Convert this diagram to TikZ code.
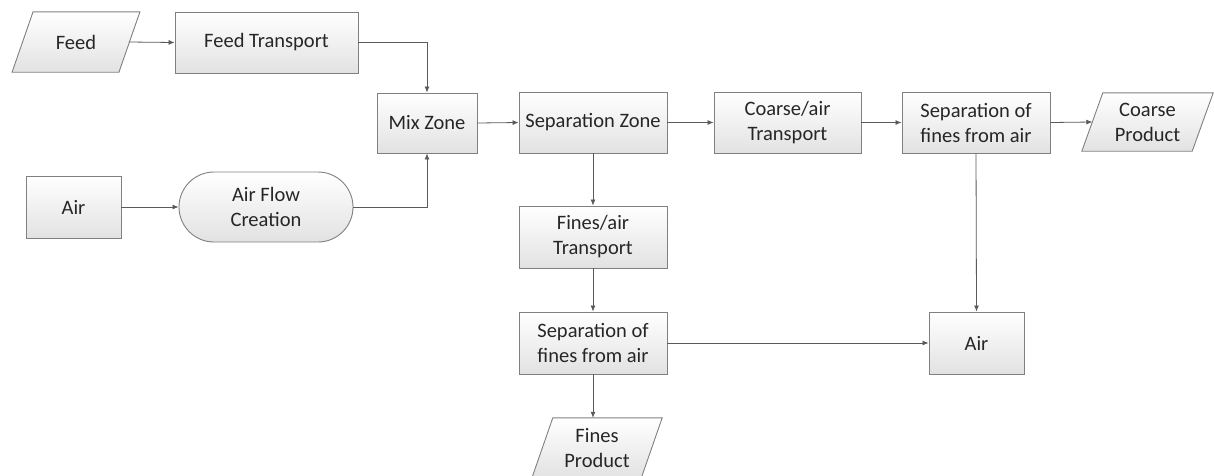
\documentclass[tikz,border=0pt]{standalone}
\usepackage{fontspec}
\setmainfont{Carlito}
\usetikzlibrary{arrows.meta,calc,backgrounds}
\definecolor{edgegray}{HTML}{808080}
\definecolor{linegray}{HTML}{5A5A5A}
\definecolor{shadegray}{HTML}{E2E2E2}
\definecolor{txt}{HTML}{262626}
\tikzset{
  shadebox/.style={draw=edgegray, line width=0.9pt, top color=white, bottom color=shadegray},
  box/.style={shadebox, rectangle, align=center, inner sep=0pt, text=txt,
    font=\fontsize{20.5}{25}\selectfont},
  iobox/.style={rectangle, draw=none, align=center, inner sep=0pt, text=txt,
    font=\fontsize{20.5}{25}\selectfont},
  conn/.style={draw=linegray, line width=0.8pt, -{Latex[length=6pt,width=5pt]}},
}
\begin{document}
\begin{tikzpicture}[x=1pt,y=-1pt]
\useasboundingbox (0,0) rectangle (1214,475);
\clip (0,0) rectangle (1214,475);
% process boxes
\node[iobox, minimum width=106.5, minimum height=60] (feed) at (76,42) {Feed};
\node[box, minimum width=183, minimum height=61] (ft) at (266.5,42.5) {Feed Transport};
\node[box, minimum width=100, minimum height=60] (mix) at (427,123) {Mix Zone};
\node[box, minimum width=95, minimum height=62] (air) at (73.5,207) {Air};
\node[box, minimum width=174, minimum height=70, rounded corners=35pt] (afc) at (266,207) {Air Flow\\Creation};
\node[box, minimum width=148, minimum height=61] (sz) at (593,122.5) {Separation Zone};
\node[box, minimum width=147, minimum height=61] (cat) at (787.5,122.5) {Coarse/air\\Transport};
\node[box, minimum width=148, minimum height=61] (sfa1) at (976,122.5) {Separation of\\fines from air};
\node[iobox, minimum width=110, minimum height=58] (cp) at (1147.5,122) {Coarse\\Product};
\node[box, minimum width=148, minimum height=62] (fat) at (593,237) {Fines/air\\Transport};
\node[box, minimum width=148, minimum height=62] (sfa2) at (593,343) {Separation of\\fines from air};
\node[box, minimum width=95, minimum height=62] (air2) at (976.5,343) {Air};
\node[iobox, minimum width=109, minimum height=60] (fp) at (597,448) {Fines\\Product};
% parallelograms behind the io texts
\begin{pgfonlayer}{background}
\foreach \n in {feed,cp,fp}{
  \draw[shadebox] ($(\n.south west)+(-10.5,0)$) -- ($(\n.south east)+(-10.5,0)$)
    -- ($(\n.north east)+(10.5,0)$) -- ($(\n.north west)+(10.5,0)$) -- cycle;
}
\end{pgfonlayer}
% connectors
\draw[conn] (feed.east) -- (ft.west);
\draw[conn] (ft.east) -| (mix.north);
\draw[conn] (air.east) -- (afc.west);
\draw[conn] (afc.east) -| (mix.south);
\draw[conn] (mix.east) -- (sz.west);
\draw[conn] (sz.east) -- (cat.west);
\draw[conn] (cat.east) -- (sfa1.west);
\draw[conn] (sfa1.east) -- (cp.west);
\draw[conn] (sz.south) -- (fat.north);
\draw[conn] (fat.south) -- (sfa2.north);
\draw[conn] (sfa2.south) -- (sfa2.south |- fp.north);
\draw[conn] (sfa2.east) -- (air2.west);
\draw[conn] (sfa1.south) -- (air2.north);
\end{tikzpicture}
\end{document}
